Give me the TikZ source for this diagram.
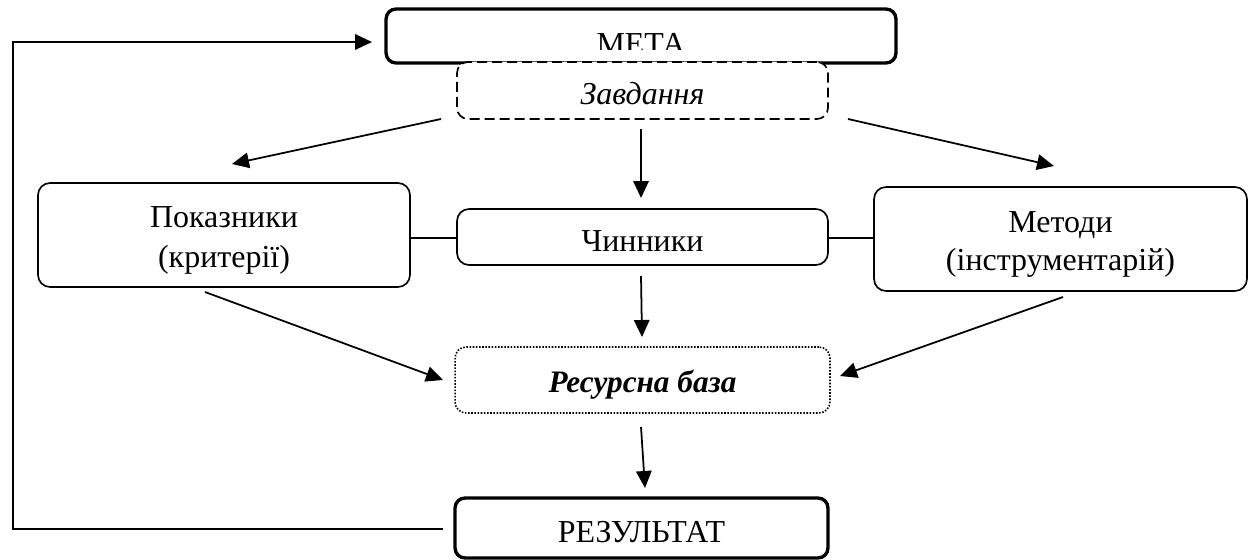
\documentclass[tikz,border=0pt]{standalone}
\usepackage{fontspec}
\setmainfont{Liberation Serif}
\usetikzlibrary{arrows.meta}
\begin{document}
\begin{tikzpicture}[x=0.02cm,y=-0.02cm,
  font=\fontsize{18.2}{22.7}\selectfont,
  box/.style={draw, line width=0.95pt, rounded corners=0.24cm, fill=white, align=center, inner sep=0pt},
  thickbox/.style={box, line width=1.9pt, rounded corners=0.2cm},
  dashbox/.style={box, dash pattern=on 0.2cm off 0.1cm, rounded corners=0.22cm},
  dotbox/.style={box, line width=0.9pt, dash pattern=on 0.9pt off 0.9pt, rounded corners=0.22cm},
  arr/.style={line width=1pt, -{Triangle[length=0.34cm, width=0.31cm]}},
  link/.style={line width=1pt}
]
\useasboundingbox (0,0) rectangle (1253,560);

% boxes
\node[thickbox, minimum width=10.2cm, minimum height=1.08cm] (meta) at (641,36) {};
\begin{scope}
  \clip (386,20) rectangle (896,50);
  \node[anchor=base, inner sep=0pt] (metatext) at (641,55) {МЕТА};
\end{scope}
\node[dashbox, minimum width=7.42cm, minimum height=1.14cm] (zav) at (642.5,90.5) {};
\node[anchor=base, inner sep=0pt] (zavtext) at (642.5,105) {\itshape Завдання};

\node[box, minimum width=7.44cm, minimum height=2.08cm] (pok) at (224,235) {};
\node[anchor=base, inner sep=0pt] (poktext) at (224,228) {Показники};
\node[anchor=base, inner sep=0pt] (poktext2) at (224,268) {(критерії)};

\node[box, minimum width=7.42cm, minimum height=1.12cm] (chyn) at (642.5,237) {};
\node[anchor=base, inner sep=0pt] (chyntext) at (642.5,252) {Чинники};

\node[box, minimum width=7.46cm, minimum height=2.08cm] (met) at (1060.5,239) {};
\node[anchor=base, inner sep=0pt] (mettext) at (1060.5,233) {Методи};
\node[anchor=base, inner sep=0pt] (mettext2) at (1060.5,271) {(інструментарій)};

\node[dotbox, minimum width=7.5cm, minimum height=1.32cm] (res) at (642.5,380) {};
\node[anchor=base, inner sep=0pt] (restext) at (642.5,392) {\fontsize{17.8}{22}\selectfont\bfseries\itshape Ресурсна база};

\node[thickbox, minimum width=7.46cm, minimum height=1.2cm] (rez) at (641.5,528) {};
\node[anchor=base, inner sep=0pt] (reztext) at (641.5,542) {РЕЗУЛЬТАТ};

% free ends
\coordinate (fbs) at (443,529);
\coordinate (fbe) at (372,42);
\coordinate (zl1) at (441,119);
\coordinate (zl2) at (232,164);
\coordinate (zr1) at (848,119);
\coordinate (zr2) at (1054,166);
\coordinate (zc1) at (641,129);
\coordinate (zc2) at (641,198);
\coordinate (cr1) at (641,276);
\coordinate (cr2) at (642,337);
\coordinate (pr1) at (205,292);
\coordinate (pr2) at (443,380);
\coordinate (mr1) at (1063,297);
\coordinate (mr2) at (840,376);
\coordinate (rr1) at (641,427);
\coordinate (rr2) at (645,488);

% connectors
\draw[arr] (fbs) -- (13,529) -- (13,42) -- (fbe);
\draw[arr] (zl1) -- (zl2);
\draw[arr] (zr1) -- (zr2);
\draw[arr] (zc1) -- (zc2);
\draw[arr] (cr1) -- (cr2);
\draw[arr] (pr1) -- (pr2);
\draw[arr] (mr1) -- (mr2);
\draw[arr] (rr1) -- (rr2);
\draw[link] (pok.east |- 0,238) -- (chyn.west |- 0,238);
\draw[link] (chyn.east |- 0,238) -- (met.west |- 0,238);
\end{tikzpicture}
\end{document}
